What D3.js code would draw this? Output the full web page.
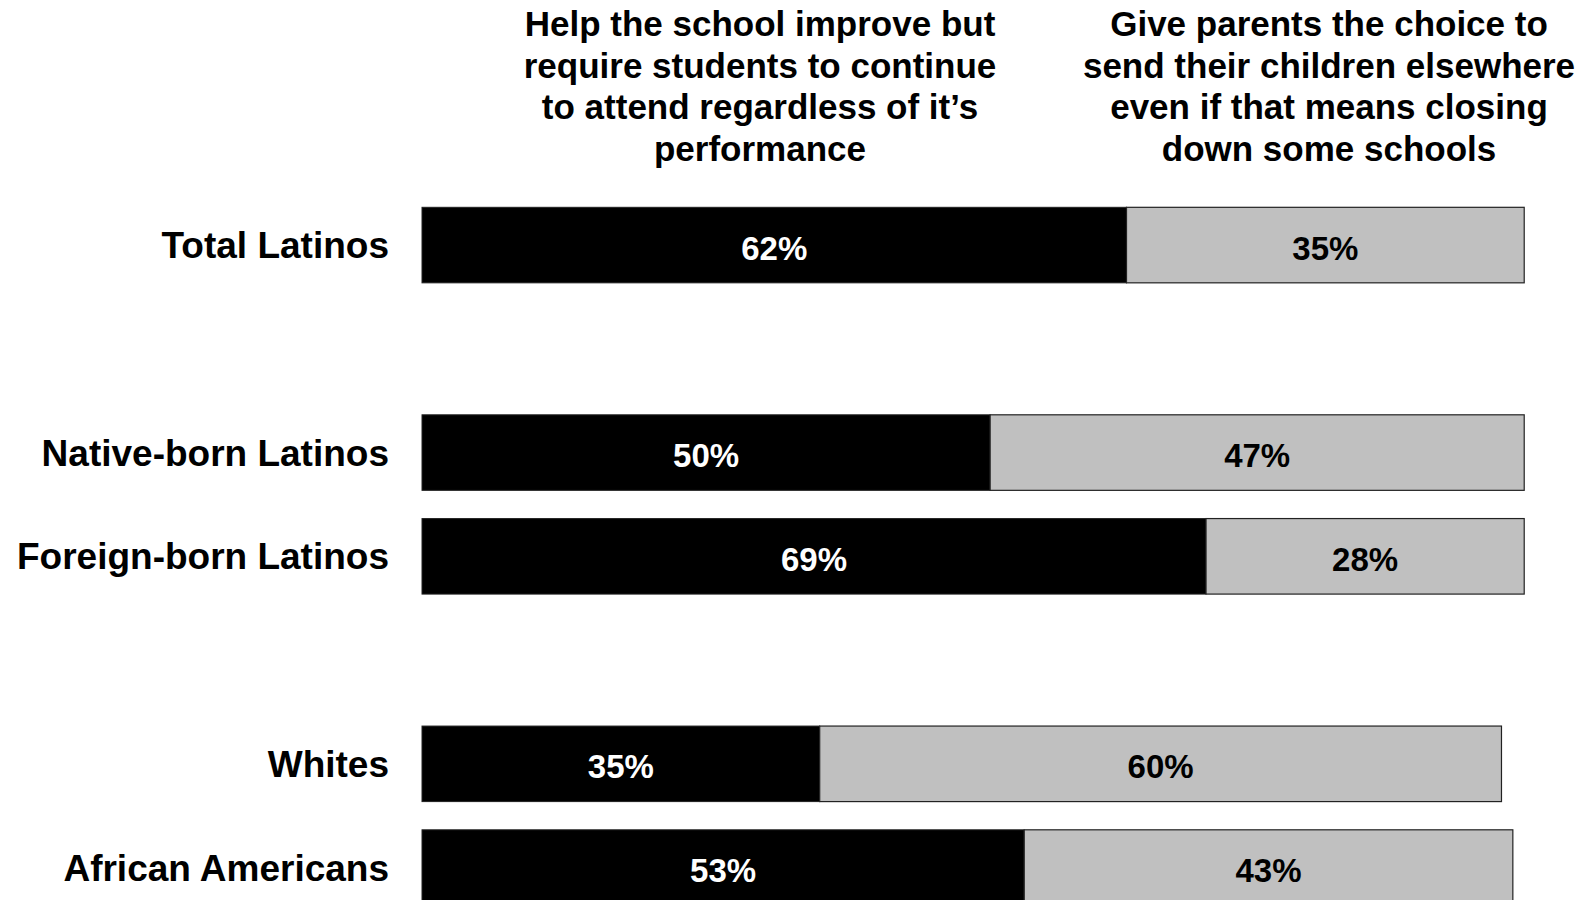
<!DOCTYPE html>
<html>
<head>
<meta charset="utf-8">
<script src="https://cdn.jsdelivr.net/npm/d3@7"></script>
<style>
  html, body { margin: 0; padding: 0; background: #ffffff; }
  svg { display: block; }
  text { font-family: "Liberation Sans", Arial, sans-serif; font-weight: bold; }
</style>
</head>
<body>
<script>
// ---- Data ----
const categories = ["Total Latinos", "Native-born Latinos", "Foreign-born Latinos", "Whites", "African Americans"];
const categoryGroups = [0, 1, 1, 2, 2];
const helpSchool = [62, 50, 69, 35, 53];
const giveChoice = [35, 47, 28, 60, 43];
const seriesHeaders = [
  ["Help the school improve but", "require students to continue", "to attend regardless of it\u2019s", "performance"],
  ["Give parents the choice to", "send their children elsewhere", "even if that means closing", "down some schools"]
];

// ---- Layout ----
const W = 1576, H = 900;
const svg = d3.select("body").append("svg").attr("width", W).attr("height", H);

const x = d3.scaleLinear().domain([0, 100]).range([422, 1558.3]);

// build band domain with blank slots between groups
const slots = [];
categories.forEach((c, i) => {
  if (i > 0 && categoryGroups[i] !== categoryGroups[i - 1]) slots.push("__gap" + i);
  slots.push(c);
});
const y = d3.scaleBand().domain(slots).range([193.2, 919.45]).paddingInner(0.272).paddingOuter(0.136);

const rows = categories.map((c, i) => ({ cat: c, a: helpSchool[i], b: giveChoice[i] }));

// ---- Bars ----
const g = svg.append("g");
// first series (black)
g.selectAll("rect.a").data(rows).join("rect")
  .attr("class", "a")
  .attr("x", x(0))
  .attr("y", d => y(d.cat))
  .attr("width", d => x(d.a) - x(0))
  .attr("height", y.bandwidth())
  .attr("fill", "#000000")
  .attr("stroke", "#222")
  .attr("stroke-width", 1);
// second series (grey)
g.selectAll("rect.b").data(rows).join("rect")
  .attr("class", "b")
  .attr("x", d => x(d.a))
  .attr("y", d => y(d.cat))
  .attr("width", d => x(d.a + d.b) - x(d.a))
  .attr("height", y.bandwidth())
  .attr("fill", "#c0c0c0")
  .attr("stroke", "#222")
  .attr("stroke-width", 1.2);

// value labels
g.selectAll("text.va").data(rows).join("text")
  .attr("class", "va")
  .attr("x", d => (x(0) + x(d.a)) / 2)
  .attr("y", d => y(d.cat) + y.bandwidth() / 2 + 14.5)
  .attr("text-anchor", "middle")
  .attr("font-size", 33)
  .attr("fill", "#ffffff")
  .text(d => d.a + "%");
g.selectAll("text.vb").data(rows).join("text")
  .attr("class", "vb")
  .attr("x", d => (x(d.a) + x(d.a + d.b)) / 2)
  .attr("y", d => y(d.cat) + y.bandwidth() / 2 + 14.5)
  .attr("text-anchor", "middle")
  .attr("font-size", 33)
  .attr("fill", "#000000")
  .text(d => d.b + "%");

// category labels (axis)
const yAxis = d3.axisLeft(y).tickSize(0).tickPadding(33)
  .tickFormat(d => d.startsWith("__gap") ? "" : d);
const ax = svg.append("g").attr("transform", `translate(${x(0)},0)`).call(yAxis);
ax.select(".domain").remove();
ax.selectAll("text")
  .attr("font-size", 37)
  .attr("font-family", "'Liberation Sans', Arial, sans-serif")
  .attr("font-weight", "bold")
  .attr("fill", "#000")
  .attr("dy", 13);

// headers
const headerX = [760, 1329];
seriesHeaders.forEach((lines, k) => {
  const t = svg.append("text")
    .attr("text-anchor", "middle")
    .attr("font-size", 35)
    .attr("fill", "#000");
  lines.forEach((ln, j) => {
    t.append("tspan").attr("x", headerX[k]).attr("y", 36 + j * 41.7).text(ln);
  });
});
</script>
</body>
</html>
